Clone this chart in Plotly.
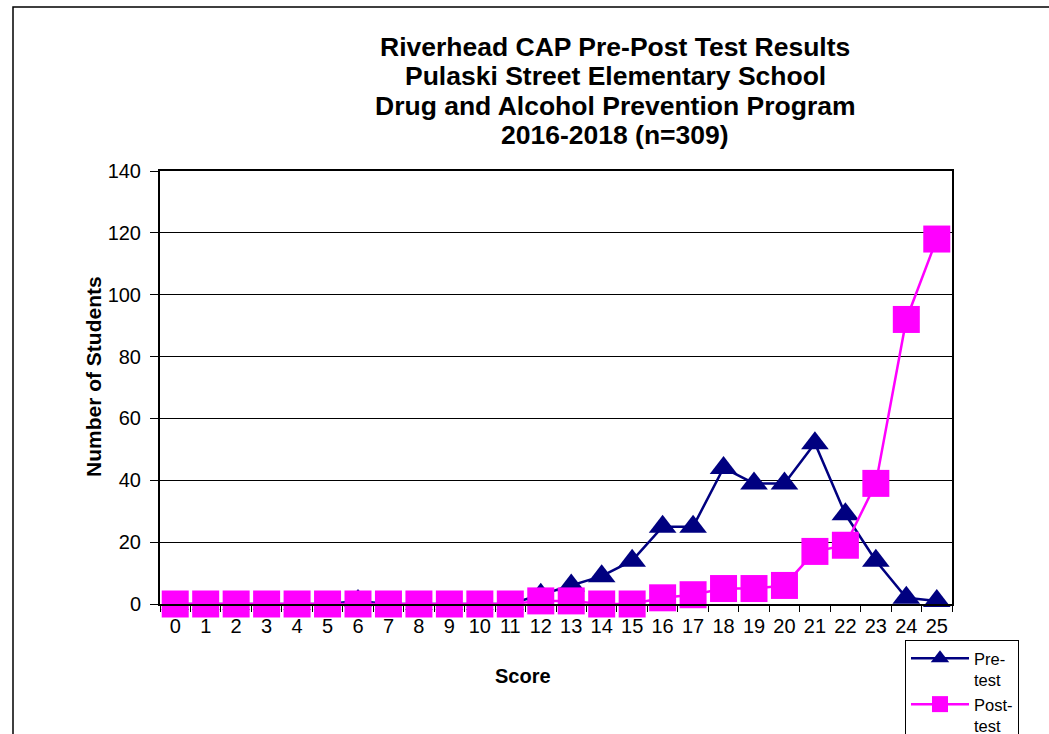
import plotly.graph_objects as go

scores = [str(i) for i in range(26)]
pre_test = [0, 0, 0, 0, 0, 0, 1, 0, 0, 0, 0, 0, 3, 6, 9, 14, 25, 25, 44, 39, 39, 52, 29, 14, 2, 1]
post_test = [0, 0, 0, 0, 0, 0, 0, 0, 0, 0, 0, 0, 1, 1, 0, 0, 2, 3, 5, 5, 6, 17, 19, 39, 92, 118]
y_ticks = [0, 20, 40, 60, 80, 100, 120, 140]

title_lines = ["Riverhead CAP Pre-Post Test Results", "Pulaski Street Elementary School",
               "Drug and Alcohol Prevention Program", "2016-2018 (n=309)"]

FONT = "Liberation Sans, Arial, sans-serif"

fig = go.Figure()
fig.add_trace(go.Scatter(
    x=scores, y=pre_test, name="Pre-<br>test", mode="lines+markers",
    line=dict(color="#000080", width=2.5),
    marker=dict(symbol="triangle-up", size=24, color="#000080"),
    cliponaxis=False,
))
fig.add_trace(go.Scatter(
    x=scores, y=post_test, name="Post-<br>test", mode="lines+markers",
    line=dict(color="#FF00FF", width=2.5),
    marker=dict(symbol="square", size=27, color="#FF00FF"),
    cliponaxis=False,
))

L, R, T, B = 160, 97, 171, 130
W, H = 1049, 734
pw, ph = W - L - R, H - T - B

def px_x(p):
    return (p - L) / pw

def px_y(p):
    return (H - B - p) / ph

title_y = [47, 76, 106, 135]
annotations = [
    dict(text="<b>" + t + "</b>", xref="paper", yref="paper",
         x=px_x(615), y=px_y(yc), xanchor="center", yanchor="middle",
         showarrow=False, font=dict(family=FONT, size=26.5, color="black"))
    for t, yc in zip(title_lines, title_y)
]
annotations.append(dict(
    text="<b>Score</b>", xref="paper", yref="paper", x=px_x(523), y=px_y(676),
    xanchor="center", yanchor="middle", showarrow=False,
    font=dict(family=FONT, size=20, color="black")))
annotations.append(dict(
    text="<b>Number of Students</b>", xref="paper", yref="paper", x=px_x(93), y=px_y(377),
    xanchor="center", yanchor="middle", showarrow=False, textangle=-90,
    font=dict(family=FONT, size=21, color="black")))

fig.update_layout(
    width=W, height=H,
    margin=dict(l=L, r=R, t=T, b=B, autoexpand=False),
    paper_bgcolor="white", plot_bgcolor="white",
    font=dict(family=FONT, color="black", size=18),
    annotations=annotations,
    xaxis=dict(
        type="category", tickson="boundaries", tickangle=0,
        showgrid=False, showline=True, linecolor="black", linewidth=2, mirror=True,
        ticks="outside", ticklen=6, tickcolor="black", tickwidth=1,
        tickfont=dict(size=20, family=FONT, color="black"), ticklabelstandoff=3,
        range=[-0.5, 25.5], automargin=False,
    ),
    yaxis=dict(
        range=[0, 140], tickvals=y_ticks,
        showgrid=True, gridcolor="black", gridwidth=1,
        showline=True, linecolor="black", linewidth=2, mirror=True,
        ticks="outside", ticklen=8, tickcolor="black", tickwidth=1,
        tickfont=dict(size=20, family=FONT, color="black"), ticklabelstandoff=5,
        zeroline=False, automargin=False,
    ),
    legend=dict(
        x=px_x(905), y=px_y(640), xanchor="left", yanchor="top",
        bordercolor="black", borderwidth=1, bgcolor="white",
        font=dict(size=16.5, family=FONT, color="black"),
        valign="top", tracegroupgap=0, itemwidth=58,
    ),
    showlegend=True,
    shapes=[dict(
        type="rect", xref="paper", yref="paper",
        x0=px_x(13), x1=px_x(1060), y0=px_y(760), y1=px_y(7),
        line=dict(color="black", width=1.5), fillcolor="rgba(0,0,0,0)", layer="below",
    )],
)

fig.write_html("out.html", config={"displayModeBar": False},
               post_script="document.body.style.margin='0';")
